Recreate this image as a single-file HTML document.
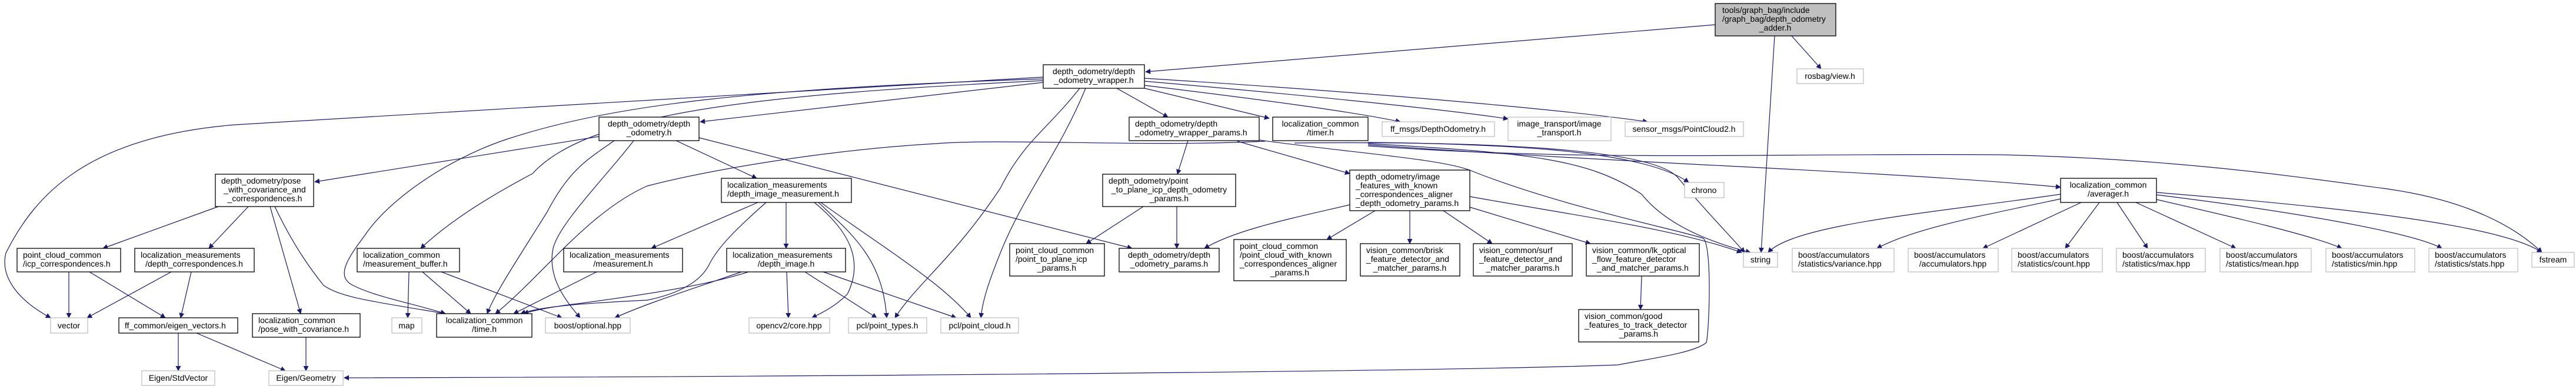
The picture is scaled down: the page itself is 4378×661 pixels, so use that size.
<!DOCTYPE html>
<html><head><meta charset="utf-8"><style>
html,body{margin:0;padding:0;background:#fff;}
svg{display:block;}
text{font-family:"Liberation Sans",Helvetica,sans-serif;font-size:14px;fill:#000;}
.b{fill:#fff;stroke:#000;stroke-width:1.3;}
.g{fill:#fff;stroke:#bfbfbf;stroke-width:1.3;}
.e{fill:none;stroke:#191970;stroke-width:1.2;marker-end:url(#a);}
</style></head><body>
<svg width="4378" height="661" viewBox="0 0 4378 661" xmlns="http://www.w3.org/2000/svg">
<defs><marker id="a" viewBox="0 0 10 10" refX="9" refY="5" markerWidth="9" markerHeight="9" orient="auto" markerUnits="userSpaceOnUse"><path d="M0,0 L10,5 L0,10 z" fill="#191970"/></marker></defs>

<!-- edges -->
<path class="e" d="M2915,42 L1947,122"/>
<path class="e" d="M3045,61 L3095,117"/>
<path class="e" d="M3016,61 L2993,429"/>

<path class="e" d="M1773,131 C1300,160 700,190 400,212 C150,232 60,330 10,430 C0,470 30,510 86,540"/>
<path class="e" d="M1773,134 C1300,150 1050,175 863,236 C760,270 660,340 620,400 C590,440 570,470 600,485 C640,505 700,515 757,533"/>
<path class="e" d="M1773,137 C1300,160 1000,190 905,295 C820,340 760,380 715,422"/>
<path class="e" d="M1773,140 L1190,207"/>
<path class="e" d="M1898,150 L1985,199"/>
<path class="e" d="M1945,150 L2157,201"/>
<path class="e" d="M1945,145 C2150,170 2300,190 2380,207"/>
<path class="e" d="M1945,138 C2200,160 2450,185 2563,202"/>
<path class="e" d="M1945,133 C2300,155 2650,185 2800,207"/>
<path class="e" d="M1835,150 C1780,220 1740,240 1700,320 C1620,440 1560,480 1521,540"/>
<path class="e" d="M1845,150 C1800,260 1740,330 1700,430 C1680,480 1670,510 1667,540"/>

<path class="e" d="M1188,234 L1924,422"/>
<path class="e" d="M1018,232 L535,309"/>
<path class="e" d="M1044,239 C1000,270 968,287 930,360 C880,440 840,500 828,533"/>
<path class="e" d="M1077,239 C1030,300 950,380 940,422 C930,470 960,510 986,540"/>
<path class="e" d="M1149,239 L1286,303"/>

<path class="e" d="M371,351 L175,422"/>
<path class="e" d="M422,351 L355,422"/>
<path class="e" d="M459,351 L511,533"/>
<path class="e" d="M467,351 C500,420 530,460 550,485 C580,505 620,510 757,533"/>
<path class="e" d="M117,462 L117,540"/>
<path class="e" d="M152,462 L281,540"/>
<path class="e" d="M291,462 L148,540"/>
<path class="e" d="M325,462 L307,540"/>
<path class="e" d="M303,566 L303,630"/>
<path class="e" d="M334,566 L485,630"/>
<path class="e" d="M520,573 L520,630"/>
<path class="e" d="M695,462 L693,540"/>
<path class="e" d="M718,462 L800,533"/>
<path class="e" d="M750,462 L955,540"/>
<path class="e" d="M1014,462 L873,533"/>

<path class="e" d="M1288,344 L1107,422"/>
<path class="e" d="M1336,344 L1336,422"/>
<path class="e" d="M1302,344 C1250,390 1220,420 1205,450 C1190,480 1150,500 1100,510 C1000,515 920,520 885,533"/>
<path class="e" d="M1384,344 C1440,390 1470,440 1440,500 C1420,520 1400,530 1380,540"/>
<path class="e" d="M1391,344 C1450,400 1500,440 1507,540"/>
<path class="e" d="M1395,344 C1500,420 1600,480 1650,540"/>
<path class="e" d="M1272,462 C1200,485 1100,500 990,515 C930,522 905,528 890,533"/>
<path class="e" d="M1260,462 C1180,490 1100,515 1045,540"/>
<path class="e" d="M1337,462 L1340,540"/>
<path class="e" d="M1368,462 L1490,540"/>
<path class="e" d="M1399,462 L1625,540"/>

<path class="e" d="M2150,240 C1950,250 1700,235 1591,244 C1400,255 1200,290 1100,316 C1000,360 920,470 842,533"/>
<path class="e" d="M2019,239 L2001,296"/>
<path class="e" d="M2103,240 L2294,295"/>
<path class="e" d="M2140,238 C2300,260 2450,270 2500,290 C2650,350 2850,390 2895,405 C2910,420 2905,560 2900,582 C2880,600 2800,610 2750,620 C2500,630 1500,640 585,642"/>
<path class="e" d="M2200,243 C2500,240 2800,250 2850,300 C2900,360 2940,400 2965,429"/>
<path class="e" d="M2325,242 C2600,245 2800,260 2870,310"/>
<path class="e" d="M2325,244 C2600,260 2700,270 2790,330 C2830,380 2900,410 2975,429"/>
<path class="e" d="M2325,246 C2800,280 3200,290 3502,318"/>
<path class="e" d="M2325,248 C2700,275 3000,260 3400,263 C3700,270 3900,300 4050,320 C4200,340 4280,390 4320,429"/>

<path class="e" d="M1943,351 L1846,414"/>
<path class="e" d="M2000,351 L2000,422"/>
<path class="e" d="M2294,348 C2200,370 2100,390 2047,422"/>
<path class="e" d="M2337,358 L2255,407"/>
<path class="e" d="M2396,358 L2396,414"/>
<path class="e" d="M2453,358 L2536,414"/>
<path class="e" d="M2498,352 L2703,414"/>
<path class="e" d="M2498,334 C2700,370 2850,390 2960,429"/>
<path class="e" d="M2790,469 L2788,526"/>

<path class="e" d="M3502,330 C3300,360 3050,380 3005,429"/>
<path class="e" d="M3502,338 C3350,370 3250,390 3190,422"/>
<path class="e" d="M3537,344 L3370,422"/>
<path class="e" d="M3568,344 L3510,422"/>
<path class="e" d="M3598,344 L3650,422"/>
<path class="e" d="M3630,344 L3800,422"/>
<path class="e" d="M3665,339 C3800,370 3930,400 3980,422"/>
<path class="e" d="M3665,331 C3900,360 4100,395 4150,422"/>
<path class="e" d="M3665,327 C3950,350 4250,380 4320,429"/>

<!-- nodes -->
<rect x="2915" y="6" width="205" height="55" fill="#bfbfbf" stroke="#000" stroke-width="1.3"/>
<text x="2927" y="22">tools/graph_bag/include</text>
<text x="2927" y="37">/graph_bag/depth_odometry</text>
<text x="3017" y="52" text-anchor="middle">_adder.h</text>

<rect class="g" x="3054" y="117" width="113" height="25"/><text x="3110" y="134" text-anchor="middle">rosbag/view.h</text>

<rect class="b" x="1773" y="110" width="172" height="40"/>
<text x="1859" y="126" text-anchor="middle">depth_odometry/depth</text>
<text x="1859" y="141" text-anchor="middle">_odometry_wrapper.h</text>

<rect class="b" x="1018" y="199" width="170" height="40"/>
<text x="1103" y="215" text-anchor="middle">depth_odometry/depth</text>
<text x="1103" y="230" text-anchor="middle">_odometry.h</text>

<rect class="b" x="1919" y="199" width="221" height="40"/>
<text x="1929" y="215">depth_odometry/depth</text>
<text x="1929" y="230">_odometry_wrapper_params.h</text>

<rect class="b" x="2163" y="199" width="162" height="40"/>
<text x="2244" y="215" text-anchor="middle">localization_common</text>
<text x="2244" y="230" text-anchor="middle">/timer.h</text>

<rect class="g" x="2349" y="207" width="191" height="25"/><text x="2444" y="224" text-anchor="middle">ff_msgs/DepthOdometry.h</text>
<rect class="g" x="2563" y="199" width="175" height="40"/>
<text x="2650" y="215" text-anchor="middle">image_transport/image</text>
<text x="2650" y="230" text-anchor="middle">_transport.h</text>
<rect class="g" x="2762" y="207" width="201" height="25"/><text x="2862" y="224" text-anchor="middle">sensor_msgs/PointCloud2.h</text>

<rect class="b" x="366" y="296" width="167" height="55"/>
<text x="376" y="312">depth_odometry/pose</text>
<text x="450" y="327" text-anchor="middle">_with_covariance_and</text>
<text x="450" y="342" text-anchor="middle">_correspondences.h</text>

<rect class="b" x="1226" y="303" width="221" height="41"/>
<text x="1236" y="319">localization_measurements</text>
<text x="1236" y="334">/depth_image_measurement.h</text>

<rect class="b" x="1874" y="296" width="226" height="55"/>
<text x="1884" y="312">depth_odometry/point</text>
<text x="1987" y="327" text-anchor="middle">_to_plane_icp_depth_odometry</text>
<text x="1987" y="342" text-anchor="middle">_params.h</text>

<rect class="b" x="2294" y="289" width="204" height="69"/>
<text x="2304" y="305">depth_odometry/image</text>
<text x="2304" y="320">_features_with_known</text>
<text x="2304" y="335">_correspondences_aligner</text>
<text x="2304" y="350">_depth_odometry_params.h</text>

<rect class="g" x="2863" y="310" width="67" height="26"/><text x="2896" y="328" text-anchor="middle">chrono</text>

<rect class="b" x="3502" y="303" width="163" height="41"/>
<text x="3583" y="319" text-anchor="middle">localization_common</text>
<text x="3583" y="334" text-anchor="middle">/averager.h</text>

<rect class="b" x="29" y="422" width="176" height="40"/>
<text x="39" y="438">point_cloud_common</text>
<text x="39" y="453">/icp_correspondences.h</text>

<rect class="b" x="229" y="422" width="203" height="40"/>
<text x="239" y="438">localization_measurements</text>
<text x="330" y="453" text-anchor="middle">/depth_correspondences.h</text>

<rect class="b" x="607" y="422" width="174" height="40"/>
<text x="617" y="438">localization_common</text>
<text x="617" y="453">/measurement_buffer.h</text>

<rect class="b" x="958" y="422" width="202" height="40"/>
<text x="968" y="438">localization_measurements</text>
<text x="1059" y="453" text-anchor="middle">/measurement.h</text>

<rect class="b" x="1235" y="422" width="202" height="40"/>
<text x="1245" y="438">localization_measurements</text>
<text x="1336" y="453" text-anchor="middle">/depth_image.h</text>

<rect class="b" x="1716" y="414" width="161" height="55"/>
<text x="1726" y="430">point_cloud_common</text>
<text x="1726" y="445">/point_to_plane_icp</text>
<text x="1796" y="460" text-anchor="middle">_params.h</text>

<rect class="b" x="1902" y="422" width="170" height="40"/>
<text x="1987" y="438" text-anchor="middle">depth_odometry/depth</text>
<text x="1987" y="453" text-anchor="middle">_odometry_params.h</text>

<rect class="b" x="2097" y="407" width="191" height="70"/>
<text x="2107" y="423">point_cloud_common</text>
<text x="2107" y="438">/point_cloud_with_known</text>
<text x="2107" y="453">_correspondences_aligner</text>
<text x="2192" y="468" text-anchor="middle">_params.h</text>

<rect class="b" x="2312" y="414" width="169" height="55"/>
<text x="2322" y="430">vision_common/brisk</text>
<text x="2322" y="445">_feature_detector_and</text>
<text x="2396" y="460" text-anchor="middle">_matcher_params.h</text>

<rect class="b" x="2504" y="414" width="168" height="55"/>
<text x="2514" y="430">vision_common/surf</text>
<text x="2514" y="445">_feature_detector_and</text>
<text x="2588" y="460" text-anchor="middle">_matcher_params.h</text>

<rect class="b" x="2696" y="414" width="192" height="55"/>
<text x="2706" y="430">vision_common/lk_optical</text>
<text x="2706" y="445">_flow_feature_detector</text>
<text x="2792" y="460" text-anchor="middle">_and_matcher_params.h</text>

<rect class="g" x="2963" y="429" width="58" height="25"/><text x="2992" y="446" text-anchor="middle">string</text>

<rect class="g" x="3046" y="422" width="173" height="40"/>
<text x="3056" y="438">boost/accumulators</text>
<text x="3056" y="453">/statistics/variance.hpp</text>
<rect class="g" x="3243" y="422" width="153" height="40"/>
<text x="3253" y="438">boost/accumulators</text>
<text x="3319" y="453" text-anchor="middle">/accumulators.hpp</text>
<rect class="g" x="3419" y="422" width="154" height="40"/>
<text x="3429" y="438">boost/accumulators</text>
<text x="3429" y="453">/statistics/count.hpp</text>
<rect class="g" x="3597" y="422" width="151" height="40"/>
<text x="3607" y="438">boost/accumulators</text>
<text x="3607" y="453">/statistics/max.hpp</text>
<rect class="g" x="3773" y="422" width="155" height="40"/>
<text x="3783" y="438">boost/accumulators</text>
<text x="3783" y="453">/statistics/mean.hpp</text>
<rect class="g" x="3953" y="422" width="151" height="40"/>
<text x="3963" y="438">boost/accumulators</text>
<text x="3963" y="453">/statistics/min.hpp</text>
<rect class="g" x="4128" y="422" width="151" height="40"/>
<text x="4138" y="438">boost/accumulators</text>
<text x="4138" y="453">/statistics/stats.hpp</text>
<rect class="g" x="4303" y="429" width="72" height="25"/><text x="4339" y="446" text-anchor="middle">fstream</text>

<rect class="g" x="86" y="540" width="63" height="26"/><text x="117" y="558" text-anchor="middle">vector</text>
<rect class="b" x="202" y="540" width="202" height="26"/><text x="212" y="558">ff_common/eigen_vectors.h</text>
<rect class="b" x="429" y="533" width="183" height="40"/>
<text x="439" y="549">localization_common</text>
<text x="439" y="564">/pose_with_covariance.h</text>
<rect class="g" x="666" y="540" width="51" height="26"/><text x="691" y="558" text-anchor="middle">map</text>
<rect class="b" x="742" y="533" width="162" height="40"/>
<text x="823" y="549" text-anchor="middle">localization_common</text>
<text x="823" y="564" text-anchor="middle">/time.h</text>
<rect class="g" x="927" y="540" width="144" height="26"/><text x="999" y="558" text-anchor="middle">boost/optional.hpp</text>
<rect class="g" x="1273" y="540" width="137" height="26"/><text x="1341" y="558" text-anchor="middle">opencv2/core.hpp</text>
<rect class="g" x="1442" y="540" width="133" height="26"/><text x="1508" y="558" text-anchor="middle">pcl/point_types.h</text>
<rect class="g" x="1599" y="540" width="132" height="26"/><text x="1665" y="558" text-anchor="middle">pcl/point_cloud.h</text>

<rect class="b" x="2683" y="526" width="204" height="55"/>
<text x="2693" y="542">vision_common/good</text>
<text x="2693" y="557">_features_to_track_detector</text>
<text x="2785" y="572" text-anchor="middle">_params.h</text>

<rect class="g" x="241" y="630" width="124" height="25"/><text x="303" y="647" text-anchor="middle">Eigen/StdVector</text>
<rect class="g" x="457" y="630" width="126" height="25"/><text x="520" y="647" text-anchor="middle">Eigen/Geometry</text>
</svg>
</body></html>
